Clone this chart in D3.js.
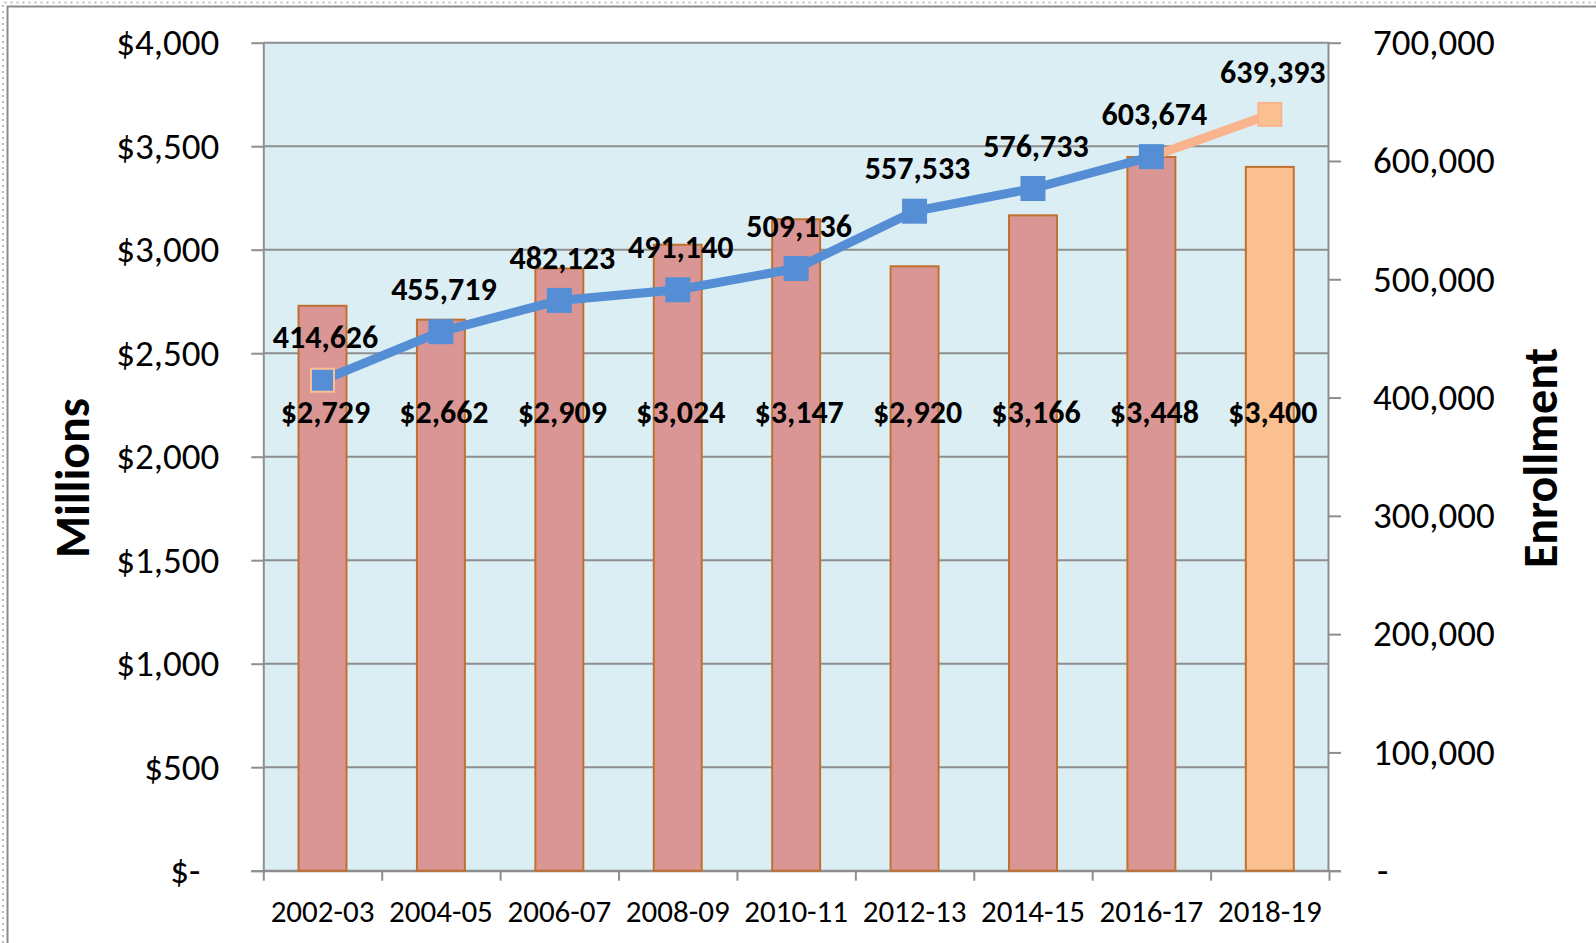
<!DOCTYPE html>
<html>
<head>
<meta charset="utf-8">
<script src="https://cdn.jsdelivr.net/npm/d3@7/dist/d3.min.js"></script>
<style>
	body { margin: 0; background: #ffffff; }
	svg { display: block; }
	text { font-family: Calibri, Carlito, Lato, sans-serif; fill: #000000; }
</style>
</head>
<body>
<div class="chart"></div>
<script>
	// data
	var years = ["2002-03", "2004-05", "2006-07", "2008-09", "2010-11", "2012-13", "2014-15", "2016-17", "2018-19"];
	var spending = [2729, 2662, 2909, 3024, 3147, 2920, 3166, 3448, 3400];
	var enrollment = [414626, 455719, 482123, 491140, 509136, 557533, 576733, 603674, 639393];
	var leftTicks = [0, 500, 1000, 1500, 2000, 2500, 3000, 3500, 4000];
	var rightTicks = [0, 100000, 200000, 300000, 400000, 500000, 600000, 700000];

	var data = years.map(function(y, i) {
		return { year: y, spend: spending[i], enroll: enrollment[i], projected: i == years.length - 1 };
	});

	// set margins
	var width = 1596, height = 943;
	var margin = { left: 263.3, right: 267, top: 42.7, bottom: 72.3 },
		plotW = width - margin.left - margin.right,
		plotH = height - margin.top - margin.bottom;

	var svg = d3.select(".chart")
		.append("svg")
			.attr("width", width)
			.attr("height", height);

	// chart frame (dotted outer + solid inner)
	svg.append("path")
		.attr("d", "M3,943 V2.5 H1596")
		.attr("fill", "none")
		.attr("stroke", "#bdbdbd")
		.attr("stroke-width", 2)
		.attr("stroke-dasharray", "2,4");
	svg.append("path")
		.attr("d", "M7.5,943 V6.5 H1596")
		.attr("fill", "none")
		.attr("stroke", "#8c8c8c")
		.attr("stroke-width", 2);

	var g = svg.append("g")
		.attr("transform", "translate(" + margin.left + ", " + margin.top + ")");

	// plot background
	g.append("rect")
		.attr("width", plotW)
		.attr("height", plotH)
		.attr("fill", "#dbeef4");

	// scales
	var x = d3.scaleBand()
		.domain(years)
		.range([0, plotW])
		.paddingInner(0.595)
		.paddingOuter(0.2975);
	var xEdge = d3.scaleLinear()
		.domain([0, years.length])
		.range([0, plotW]);
	var yLeft = d3.scaleLinear()
		.domain([0, 4000])
		.range([plotH, 0]);
	var yRight = d3.scaleLinear()
		.domain([0, 700000])
		.range([plotH, 0]);

	// gridlines
	g.append("g")
		.attr("class", "grid")
		.selectAll("line")
		.data(leftTicks)
		.enter().append("line")
			.attr("x1", 0)
			.attr("x2", plotW)
			.attr("y1", function(d) { return yLeft(d); })
			.attr("y2", function(d) { return yLeft(d); })
			.attr("stroke", "#8e8e8e")
			.attr("stroke-width", 2);

	// left axis
	var yAxisLeft = g.append("g")
		.attr("class", "y axis")
		.call(d3.axisLeft(yLeft)
			.tickValues(leftTicks)
			.tickSize(12)
			.tickPadding(32)
			.tickFormat(function(d) { return d == 0 ? "$-" : "$" + d3.format(",")(d); }));
	yAxisLeft.selectAll("text")
		.attr("font-size", "37px")
		.attr("dx", function(d) { return d == 0 ? -19 : 0; });

	// right axis
	var yAxisRight = g.append("g")
		.attr("class", "y axis right")
		.attr("transform", "translate(" + plotW + ",0)")
		.call(d3.axisRight(yRight)
			.tickValues(rightTicks)
			.tickSize(12)
			.tickPadding(32)
			.tickFormat(function(d) { return d == 0 ? " -" : d3.format(",")(d); }));
	yAxisRight.selectAll("text")
		.attr("font-size", "37px")
		.attr("dx", function(d) { return d == 0 ? 4 : 0; });

	// x axis: ticks at band edges, labels at band centers
	var xAxisTicks = g.append("g")
		.attr("class", "x axis")
		.attr("transform", "translate(0," + plotH + ")")
		.call(d3.axisBottom(xEdge)
			.ticks(years.length)
			.tickSize(10)
			.tickFormat(""));
	xAxisTicks.select(".domain")
		.attr("d", "M-12,0.5H" + (plotW + 12));

	var xAxisLabels = g.append("g")
		.attr("class", "x labels")
		.attr("transform", "translate(0," + plotH + ")")
		.call(d3.axisBottom(x)
			.tickSize(0)
			.tickPadding(29));
	xAxisLabels.select(".domain").remove();
	xAxisLabels.selectAll("text")
		.attr("font-size", "31px");

	g.selectAll(".axis .domain, .axis .tick line")
		.attr("stroke", "#8e8e8e")
		.attr("stroke-width", 2);
	g.selectAll(".axis .domain").attr("fill", "none");
	yAxisLeft.select(".domain").attr("d", "M0.5," + plotH + "V0");
	yAxisRight.select(".domain").attr("d", "M-0.5," + plotH + "V0");

	// bars
	g.selectAll(".bar")
		.data(data)
		.enter().append("rect")
			.attr("class", "bar")
			.attr("x", function(d) { return x(d.year); })
			.attr("width", x.bandwidth())
			.attr("y", function(d) { return yLeft(d.spend); })
			.attr("height", function(d) { return plotH - yLeft(d.spend); })
			.attr("fill", function(d) { return d.projected ? "#fac090" : "#d99694"; })
			.attr("stroke", "#c0712f")
			.attr("stroke-width", 2);

	// enrollment line
	var cx = function(d) { return x(d.year) + x.bandwidth() / 2; },
		cy = function(d) { return yRight(d.enroll); };
	var line = d3.line().x(cx).y(cy);

	g.append("path")
		.datum(data.slice(data.length - 2))
		.attr("d", line)
		.attr("fill", "none")
		.attr("stroke", "#f9b48e")
		.attr("stroke-width", 9);
	g.append("path")
		.datum(data.slice(0, data.length - 1))
		.attr("d", line)
		.attr("fill", "none")
		.attr("stroke", "#558ed5")
		.attr("stroke-width", 9)
		.attr("stroke-linejoin", "round");

	// markers
	var mSize = 23;
	g.selectAll(".marker")
		.data(data)
		.enter().append("rect")
			.attr("class", "marker")
			.attr("x", function(d) { return cx(d) - mSize / 2; })
			.attr("y", function(d) { return cy(d) - mSize / 2; })
			.attr("width", mSize)
			.attr("height", mSize)
			.attr("fill", function(d) { return d.projected ? "#fac090" : "#558ed5"; })
			.attr("stroke", function(d, i) {
				if (d.projected) { return "#f9b48e"; }
				if (i == 0) { return "#fac090"; }
				return "#558ed5";
			})
			.attr("stroke-width", 2);

	// enrollment labels
	g.selectAll(".enroll-label")
		.data(data)
		.enter().append("text")
			.attr("class", "enroll-label")
			.attr("x", function(d) { return cx(d) + 3; })
			.attr("y", function(d) { return cy(d) - 43; })
			.attr("dy", "0.35em")
			.attr("text-anchor", "middle")
			.attr("font-size", "32px")
			.attr("font-weight", "bold")
			.text(function(d) { return d3.format(",")(d.enroll); });

	// spending labels
	g.selectAll(".spend-label")
		.data(data)
		.enter().append("text")
			.attr("class", "spend-label")
			.attr("x", function(d) { return cx(d) + 3; })
			.attr("y", yLeft(2215))
			.attr("dy", "0.35em")
			.attr("text-anchor", "middle")
			.attr("font-size", "32px")
			.attr("font-weight", "bold")
			.text(function(d) { return "$" + d3.format(",")(d.spend); });

	// axis titles
	svg.append("text")
		.attr("transform", "translate(72," + 478 + ") rotate(-90)")
		.attr("dy", "0.35em")
		.attr("text-anchor", "middle")
		.attr("font-size", "48px")
		.attr("font-weight", "bold")
		.text("Millions");
	svg.append("text")
		.attr("transform", "translate(1540," + 458 + ") rotate(-90)")
		.attr("dy", "0.35em")
		.attr("text-anchor", "middle")
		.attr("font-size", "48px")
		.attr("font-weight", "bold")
		.text("Enrollment");
</script>
</body>
</html>
